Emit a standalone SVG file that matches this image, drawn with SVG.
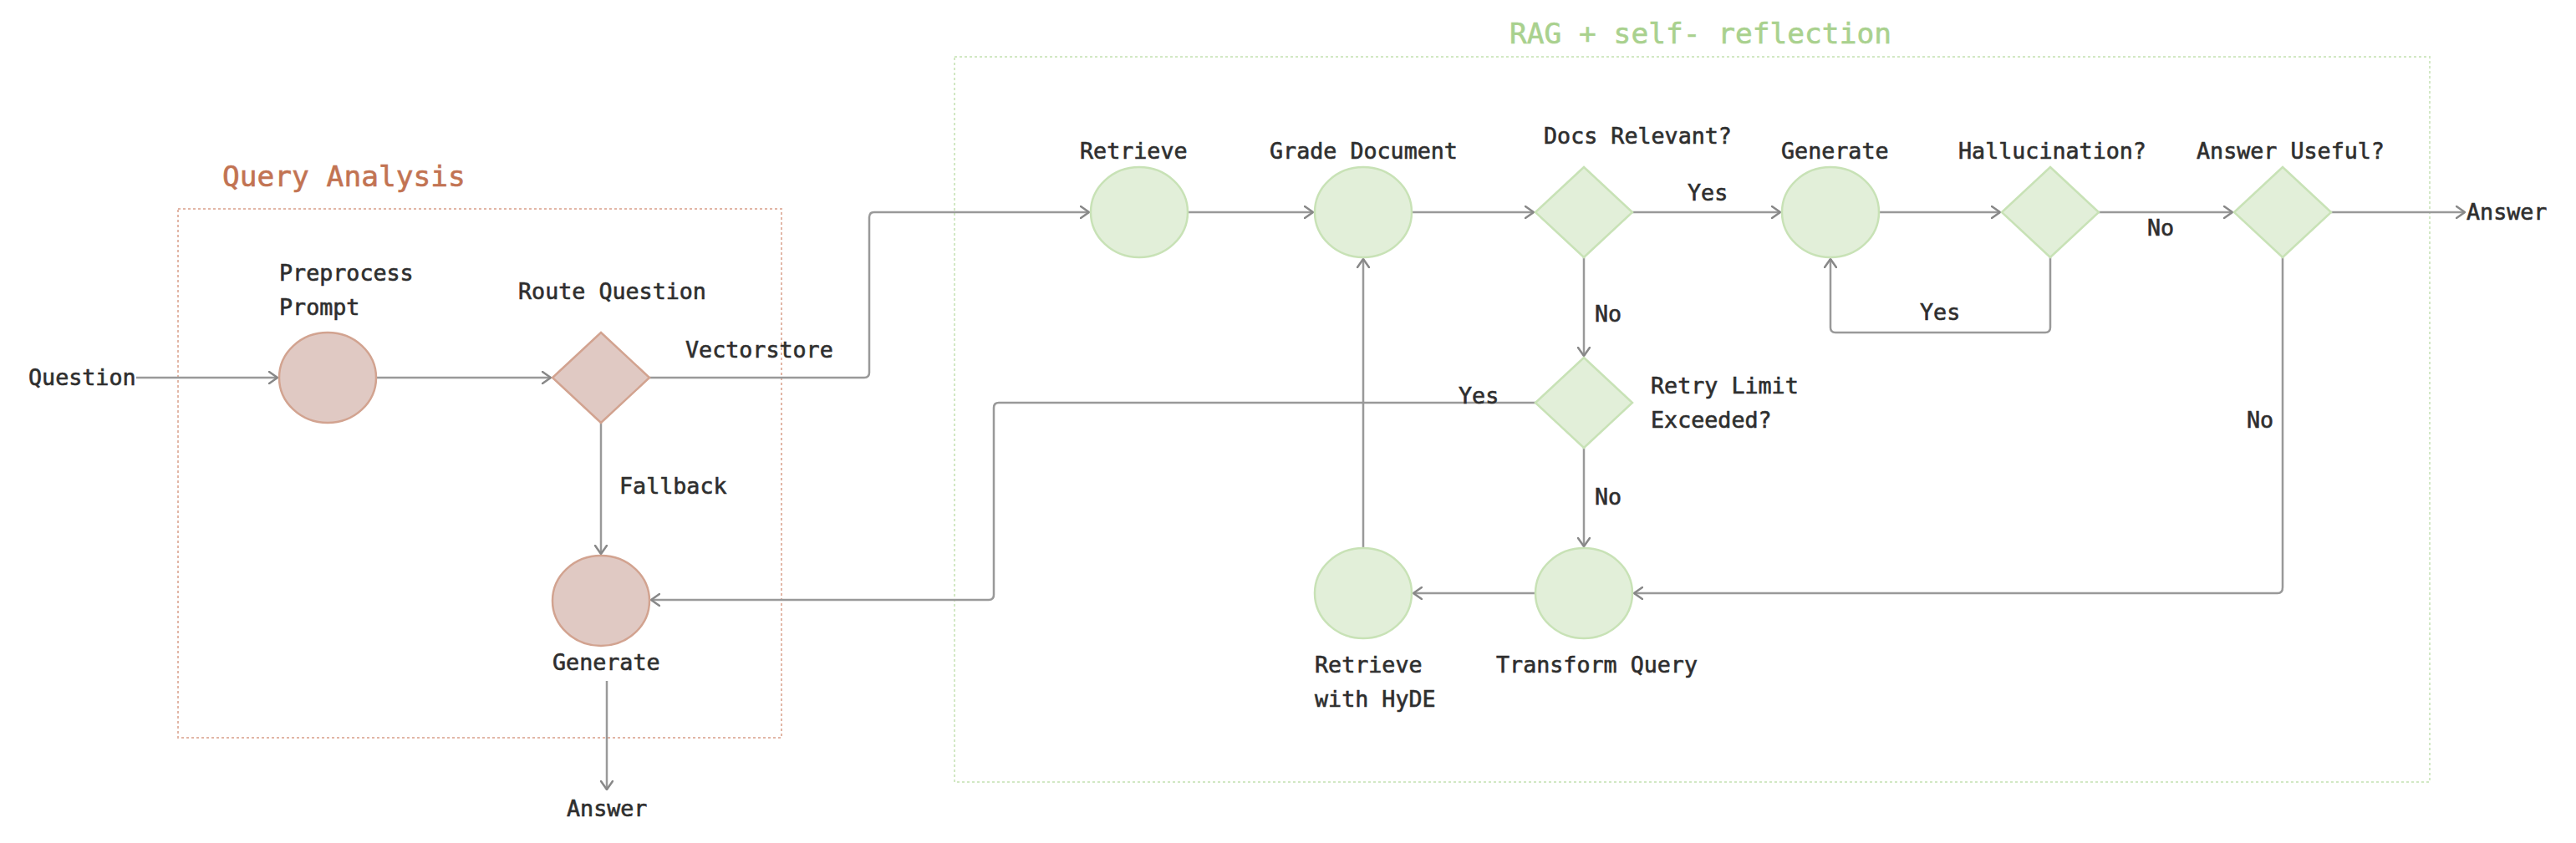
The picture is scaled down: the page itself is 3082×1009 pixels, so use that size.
<svg xmlns="http://www.w3.org/2000/svg" width="3082" height="1009" viewBox="0 0 3082 1009">
  <style>
    text { font-family: "DejaVu Sans Mono", "Liberation Mono", monospace; font-size: 26.7px; fill: #2e2e2e; stroke: #2e2e2e; stroke-width: 0.6; }
    .title-qa { font-size: 34.5px; fill: #c27352; stroke: #c27352; }
    .title-rag { font-size: 34.5px; fill: #a9d18e; stroke: #a9d18e; }
    .qa-node { fill: #e0c9c3; stroke: #d2a390; stroke-width: 2.5; }
    .rag-node { fill: #e2efd9; stroke: #c8e2b6; stroke-width: 2.5; }
    .edge { fill: none; stroke: #999999; stroke-width: 2.5; marker-end: url(#arrow); }
    .qa-box { fill: none; stroke: #e2b6a6; stroke-width: 2; stroke-dasharray: 3 3; }
    .rag-box { fill: none; stroke: #d2e8c4; stroke-width: 2; stroke-dasharray: 3 3; }
  </style>
  <defs>
    <marker id="arrow" viewBox="0 0 12 16" refX="11" refY="8" markerWidth="12" markerHeight="16" markerUnits="userSpaceOnUse" orient="auto">
      <path d="M1 1 L11 8 L1 15" fill="none" stroke="#888888" stroke-width="2.5" stroke-linejoin="round" stroke-linecap="round"/>
    </marker>
  </defs>
  <rect width="3082" height="1009" fill="#ffffff"/>

  <!-- Group frames -->
  <g id="group-query-analysis">
    <rect class="qa-box" x="213" y="250" width="722" height="633"/>
    <text class="title-qa" x="266" y="223">Query Analysis</text>
  </g>
  <g id="group-rag">
    <rect class="rag-box" x="1142" y="68" width="1765" height="868"/>
    <text class="title-rag" x="1806" y="52">RAG + self- reflection</text>
  </g>

  <!-- Connectors -->
  <g id="connectors">
    <path class="edge" d="M163 452 H332"/>
    <path class="edge" d="M450 452 H659"/>
    <path class="edge" d="M777 452 H1034 Q1040 452 1040 446 V260 Q1040 254 1046 254 H1303"/>
    <path class="edge" d="M719 506 V663"/>
    <path class="edge" d="M726 815 V945"/>
    <path class="edge" d="M1421 254 H1571"/>
    <path class="edge" d="M1689 254 H1835"/>
    <path class="edge" d="M1953 254 H2130"/>
    <path class="edge" d="M2248 254 H2393"/>
    <path class="edge" d="M2511 254 H2671"/>
    <path class="edge" d="M2789 254 H2949"/>
    <path class="edge" d="M2453 308 V392 Q2453 398 2447 398 H2196 Q2190 398 2190 392 V310"/>
    <path class="edge" d="M2731 308 V703 Q2731 710 2725 710 H1955"/>
    <path class="edge" d="M1895 308 V426"/>
    <path class="edge" d="M1895 536 V654"/>
    <path class="edge" d="M1837 482 H1195 Q1189 482 1189 488 V712 Q1189 718 1183 718 H779"/>
    <path class="edge" d="M1837 710 H1691"/>
    <path class="edge" d="M1631 656 V310"/>

    <text x="34" y="461">Question</text>
    <text x="820" y="428">Vectorstore</text>
    <text x="741" y="591">Fallback</text>
    <text x="678" y="977">Answer</text>
    <text x="2019" y="240">Yes</text>
    <text x="2569" y="282">No</text>
    <text x="2951" y="263">Answer</text>
    <text x="2297" y="383">Yes</text>
    <text x="1908" y="385">No</text>
    <text x="1745" y="483">Yes</text>
    <text x="1908" y="604">No</text>
    <text x="2688" y="512">No</text>
  </g>

  <!-- Query Analysis nodes -->
  <g id="node-preprocess-prompt">
    <ellipse class="qa-node" cx="392" cy="452" rx="58" ry="54"/>
    <text x="334" y="336">Preprocess</text>
    <text x="334" y="377">Prompt</text>
  </g>
  <g id="node-route-question">
    <polygon class="qa-node" points="719,398 777,452 719,506 661,452"/>
    <text x="620" y="358">Route Question</text>
  </g>
  <g id="node-generate-fallback">
    <ellipse class="qa-node" cx="719" cy="719" rx="58" ry="54"/>
    <text x="661" y="802">Generate</text>
  </g>

  <!-- RAG nodes -->
  <g id="node-retrieve">
    <ellipse class="rag-node" cx="1363" cy="254" rx="58" ry="54"/>
    <text x="1292" y="190">Retrieve</text>
  </g>
  <g id="node-grade-document">
    <ellipse class="rag-node" cx="1631" cy="254" rx="58" ry="54"/>
    <text x="1519" y="190">Grade Document</text>
  </g>
  <g id="node-docs-relevant">
    <polygon class="rag-node" points="1895,200 1953,254 1895,308 1837,254"/>
    <text x="1847" y="172">Docs Relevant?</text>
  </g>
  <g id="node-generate">
    <ellipse class="rag-node" cx="2190" cy="254" rx="58" ry="54"/>
    <text x="2131" y="190">Generate</text>
  </g>
  <g id="node-hallucination">
    <polygon class="rag-node" points="2453,200 2511,254 2453,308 2395,254"/>
    <text x="2343" y="190">Hallucination?</text>
  </g>
  <g id="node-answer-useful">
    <polygon class="rag-node" points="2731,200 2789,254 2731,308 2673,254"/>
    <text x="2628" y="190">Answer Useful?</text>
  </g>
  <g id="node-retry-limit">
    <polygon class="rag-node" points="1895,428 1953,482 1895,536 1837,482"/>
    <text x="1975" y="471">Retry Limit</text>
    <text x="1975" y="512">Exceeded?</text>
  </g>
  <g id="node-transform-query">
    <ellipse class="rag-node" cx="1895" cy="710" rx="58" ry="54"/>
    <text x="1790" y="805">Transform Query</text>
  </g>
  <g id="node-retrieve-hyde">
    <ellipse class="rag-node" cx="1631" cy="710" rx="58" ry="54"/>
    <text x="1573" y="805">Retrieve</text>
    <text x="1573" y="846">with HyDE</text>
  </g>
</svg>
